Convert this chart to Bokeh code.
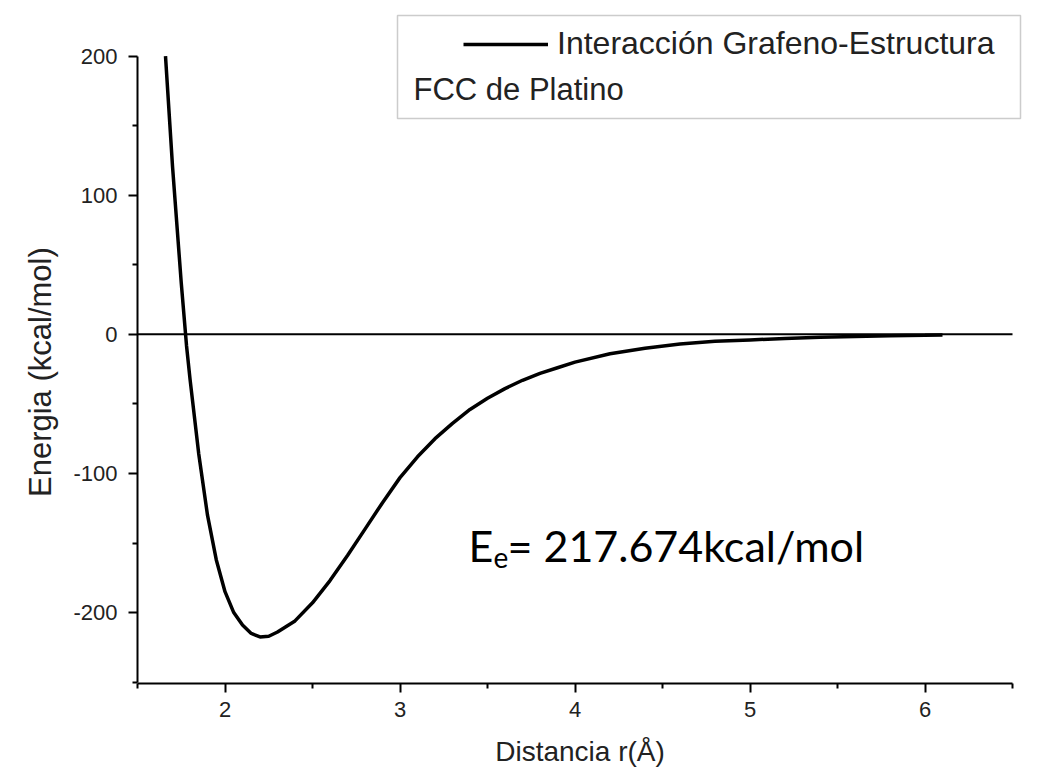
from bokeh.plotting import figure
from bokeh.models import (Range1d, LinearAxis, FixedTicker, Legend,
                          LegendItem, Label, BoxAnnotation)
from bokeh.embed import file_html
from bokeh.resources import INLINE

# ---------------- data ----------------
distance = [1.66, 1.70, 1.75, 1.78, 1.80, 1.85, 1.90, 1.95, 2.00, 2.05,
            2.10, 2.15, 2.20, 2.25, 2.30, 2.40, 2.50, 2.60, 2.70, 2.80,
            2.90, 3.00, 3.10, 3.20, 3.30, 3.40, 3.50, 3.60, 3.70, 3.80,
            3.90, 4.00, 4.20, 4.40, 4.60, 4.80, 5.00, 5.20, 5.40, 5.60,
            5.80, 6.00, 6.10]
energy = [200, 121, 37, -8, -32, -86, -130, -162, -185, -200,
          -209, -215, -217.5, -217, -214, -206, -193, -177, -159, -140,
          -121, -103, -88, -75, -64, -54, -46, -39, -33, -28,
          -24, -20, -14, -10, -7, -5, -4, -3, -2, -1.5,
          -1, -0.7, -0.5]
x_ticks = [2, 3, 4, 5, 6]
x_minor = [1.5, 2.5, 3.5, 4.5, 5.5, 6.5]
y_ticks = [-200, -100, 0, 100, 200]
y_minor = [-250, -150, -50, 50, 150]
x_title = "Distancia r(Å)"
y_title = "Energia (kcal/mol)"
series_label = "Interacción Grafeno-Estructura"
series_label2 = "FCC de Platino"
ee_symbol = "E"
ee_sub = "e"
ee_text = "= 217.674kcal/mol"

# ---------------- layout ----------------
W, H = 1048, 779
FL, FR, FT, FB = 137, 1022, 0, 683
X0, X_END = 1.5, 6.5
X1 = X0 + (FR - FL) / 175.0
Y0, Y1 = -251, 240
Y_BOTTOM, Y_TOP = -250, 200


def px2x(px):
    return X0 + (px - FL) / (FR - FL) * (X1 - X0)


def px2y(py):
    return Y1 - (py - FT) / (FB - FT) * (Y1 - Y0)


FONT = "Liberation Sans"
TXT = "#222222"

p = figure(width=W, height=H, output_backend="svg", toolbar_location=None,
           x_range=Range1d(X0, X1), y_range=Range1d(Y0, Y1),
           x_axis_location=None, y_axis_location=None,
           min_border_left=FL, min_border_right=W - FR,
           min_border_top=FT, min_border_bottom=H - FB)
p.outline_line_color = None
p.background_fill_color = "white"
p.border_fill_color = "white"
p.xgrid.visible = False
p.ygrid.visible = False

xaxis = LinearAxis(ticker=FixedTicker(ticks=x_ticks, minor_ticks=x_minor),
                   bounds=(X0, X_END), axis_label=x_title)
# trailing no-break spaces shift the rotated title down to where it sits
# in the reference (below the centre of the frame)
yaxis = LinearAxis(ticker=FixedTicker(ticks=y_ticks, minor_ticks=y_minor),
                   bounds=(Y_BOTTOM, Y_TOP),
                   axis_label=y_title + "\u00a0" * 7)
yaxis.major_label_overrides = {t: str(t) for t in y_ticks}
for ax in (xaxis, yaxis):
    ax.axis_line_color = "black"
    ax.axis_line_width = 2
    ax.major_tick_line_color = "black"
    ax.major_tick_line_width = 2
    ax.minor_tick_line_color = "black"
    ax.minor_tick_line_width = 2
    ax.major_tick_in = 0
    ax.major_tick_out = 9
    ax.minor_tick_in = 0
    ax.minor_tick_out = 5
    ax.major_label_text_font = FONT
    ax.major_label_text_font_size = "22px"
    ax.major_label_text_color = TXT
    ax.axis_label_text_font = FONT
    ax.axis_label_text_font_style = "normal"
    ax.axis_label_text_color = TXT
xaxis.axis_label_text_font_size = "28px"
yaxis.axis_label_text_font_size = "31px"
xaxis.major_label_standoff = 9
xaxis.axis_label_standoff = 16
yaxis.major_label_standoff = 11
yaxis.axis_label_standoff = 12
p.add_layout(xaxis, "below")
p.add_layout(yaxis, "left")

# zero line, stopping at the end of the x axis
p.segment(x0=[X0], y0=[0], x1=[X_END], y1=[0], line_color="black",
          line_width=2)

# curve
r = p.line(distance, energy, line_color="black", line_width=3.5)

# legend box
p.add_layout(BoxAnnotation(left=px2x(397), right=px2x(1020),
                           top=px2y(15), bottom=px2y(118),
                           fill_color="white", fill_alpha=1.0,
                           line_color="#555555", line_width=1.5))
leg = Legend(items=[LegendItem(label=series_label, renderers=[r])],
             location=(463 - FL, FB - 62), padding=0, margin=0,
             glyph_width=85, glyph_height=34, label_height=34,
             label_standoff=9, border_line_color=None,
             background_fill_alpha=0,
             label_text_font=FONT, label_text_font_size="32px",
             label_text_color=TXT)
p.add_layout(leg, "center")
p.add_layout(Label(x=px2x(413), y=px2y(89), text=series_label2,
                   text_font=FONT, text_font_size="31px", text_color=TXT,
                   text_baseline="middle", text_align="left"))

# annotation E_e
EFONT = "Lato"
p.add_layout(Label(x=px2x(468), y=px2y(545), text=ee_symbol,
                   text_font=EFONT, text_font_size="43px", text_color="black",
                   text_baseline="alphabetic"))
p.add_layout(Label(x=px2x(493), y=px2y(557), text=ee_sub,
                   text_font=EFONT, text_font_size="28px", text_color="black",
                   text_baseline="alphabetic"))
p.add_layout(Label(x=px2x(507), y=px2y(545), text=ee_text,
                   text_font=EFONT, text_font_size="43px", text_color="black",
                   text_baseline="alphabetic"))

open("out.html", "w").write(file_html(p, INLINE))
